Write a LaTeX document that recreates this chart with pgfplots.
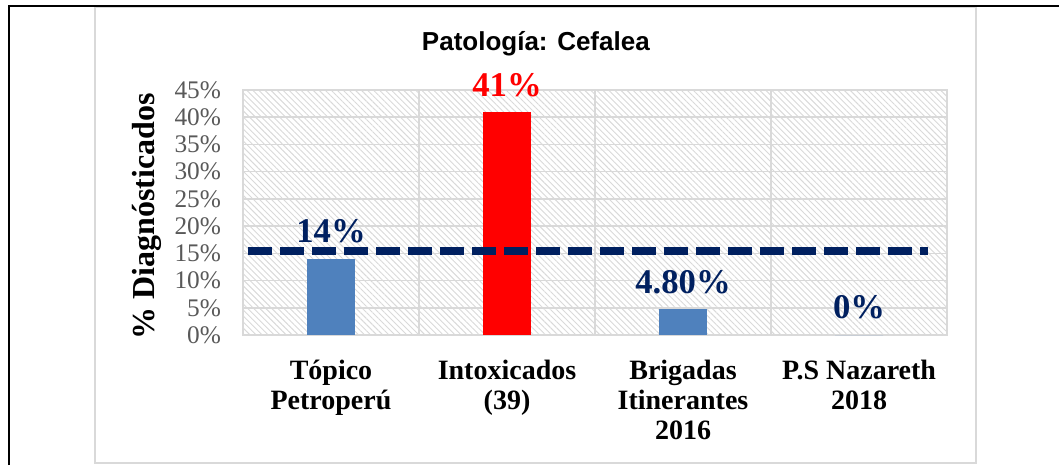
\documentclass[border=0pt]{standalone}
\usepackage{fontspec}
\setmainfont{Liberation Serif}
\newfontfamily\arialfont{Liberation Sans}
\usepackage{pgfplots}
\pgfplotsset{compat=1.18}
\usetikzlibrary{patterns.meta}
\definecolor{barblue}{HTML}{4F81BD}
\definecolor{navy}{HTML}{002060}
\definecolor{gridgray}{HTML}{D9D9D9}
\definecolor{ticktext}{HTML}{595959}
\begin{document}
\begin{tikzpicture}
\useasboundingbox (0,0) rectangle (794.25pt,348.75pt);
\draw[gridgray, line width=1.2pt] (71.25pt,1.5pt) rectangle (732pt,343.5pt);
\draw[black, line width=1.6pt] (6.75pt,0pt) -- (6.75pt,344.25pt) -- (794.25pt,344.25pt);
\begin{axis}[
  at={(182.25pt,97.5pt)}, anchor=south west,
  scale only axis, width=528pt, height=183.75pt,
  xmin=-0.5, xmax=3.5, ymin=0, ymax=45,
  xtick={0,1,2,3},
  xticklabels={{Tópico\\Petroperú},{Intoxicados\\(39)},{Brigadas\\Itinerantes\\2016},{P.S Nazareth\\2018}},
  minor xtick={0.5,1.5,2.5},
  xminorgrids, ymajorgrids,
  ytick={0,5,...,45},
  yticklabels={0\%,5\%,10\%,15\%,20\%,25\%,30\%,35\%,40\%,45\%},
  major tick length=0pt, minor tick length=0pt,
  grid style={gridgray, line width=1.1pt},
  minor grid style={gridgray, line width=1.1pt},
  axis line style={gridgray, line width=1.5pt},
  axis background/.style={pattern={Lines[angle=-45,distance=3.2pt,line width=0.7pt]}, pattern color=gridgray},
  yticklabel style={font=\fontsize{19}{22}\selectfont, text=ticktext, xshift=-13pt},
  xticklabel style={font=\bfseries\fontsize{21}{22.5}\selectfont, align=center, text=black, yshift=-15.5pt},
  title={Patología: Cefalea},
  title style={font=\arialfont\bfseries\fontsize{19.5}{22}\selectfont, at={(axis description cs:0.416,1)}, anchor=center, yshift=29pt},
  ylabel={\% Diagnósticados},
  ylabel style={font=\bfseries\fontsize{24}{28}\selectfont, at={(axis description cs:-0.136,0.484)}, anchor=center},
  clip=false,
]
\addplot[ybar, bar width=36pt, bar shift=0pt, fill=barblue, draw=none,
  nodes near coords={14\%},
  nodes near coords style={font=\bfseries\fontsize{26}{30}\selectfont, text=navy, anchor=center, yshift=21pt}]
  coordinates {(0,14)};
\addplot[ybar, bar width=36pt, bar shift=0pt, fill=red, draw=none,
  nodes near coords={41\%},
  nodes near coords style={font=\bfseries\fontsize{26}{30}\selectfont, text=red, anchor=center, yshift=20pt}]
  coordinates {(1,41)};
\addplot[ybar, bar width=36pt, bar shift=0pt, fill=barblue, draw=none,
  nodes near coords={4.80\%},
  nodes near coords style={font=\bfseries\fontsize{26}{30}\selectfont, text=navy, anchor=center, yshift=20pt}]
  coordinates {(2,4.8)};
\addplot[ybar, bar width=36pt, bar shift=0pt, fill=barblue, draw=none,
  nodes near coords={0\%},
  nodes near coords style={font=\bfseries\fontsize{26}{30}\selectfont, text=navy, anchor=center, yshift=21pt}]
  coordinates {(3,0)};
\addplot[navy, line width=5.5pt, dash pattern=on 18pt off 6pt] coordinates {(-0.47,15.4) (3.39,15.4)};
\end{axis}
\end{tikzpicture}
\end{document}
